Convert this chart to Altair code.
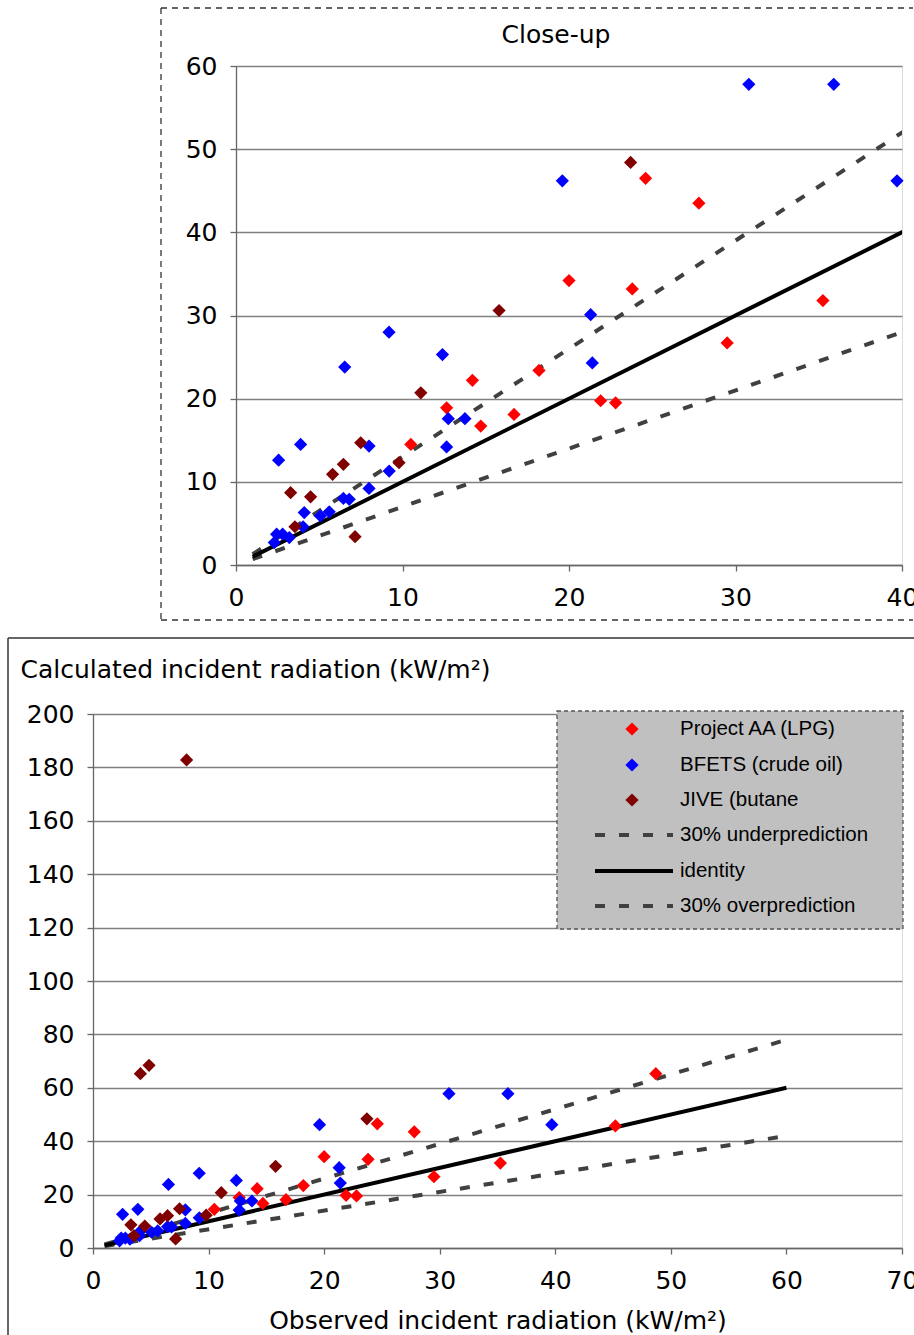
import altair as alt
import pandas as pd

# ---------------- data ----------------
series_names = ["Project AA (LPG)", "BFETS (crude oil)", "JIVE (butane"]
series_colors = ["#FF0000", "#0000FF", "#800000"]

aa_obs = [10.5, 12.65, 14.2, 14.7, 16.7, 18.2, 20.0, 21.9, 22.8, 23.8, 24.6, 27.8, 29.5, 35.25, 45.2, 48.7]
aa_calc = [14.5, 18.9, 22.2, 16.7, 18.1, 23.4, 34.2, 19.75, 19.5, 33.2, 46.5, 43.5, 26.7, 31.8, 45.7, 65.3]

bf_obs = [2.3, 2.44, 2.8, 3.2, 4.03, 4.1, 5.07, 5.6, 6.45, 6.8, 7.99, 9.2, 2.56, 3.88, 7.99,
          12.65, 12.75, 13.75, 6.53, 9.19, 12.4, 21.4, 21.3, 19.6, 30.8, 35.9, 39.7]
bf_calc = [2.7, 3.7, 3.7, 3.3, 4.6, 6.3, 5.9, 6.4, 8.0, 7.9, 9.2, 11.3, 12.6, 14.5, 14.3,
           14.2, 17.6, 17.6, 23.8, 28.0, 25.3, 24.3, 30.1, 46.2, 57.8, 57.8, 46.2]

jv_obs = [3.28, 3.54, 4.48, 5.8, 6.45, 7.15, 7.49, 9.79, 11.1, 15.8, 23.7, 4.1, 4.85, 8.1]
jv_calc = [8.7, 4.6, 8.2, 10.9, 12.1, 3.4, 14.7, 12.3, 20.7, 30.6, 48.4, 65.3, 68.4, 182.8]

line_names = ["30% underprediction", "identity", "30% overprediction"]
line_obs = [1, 60]
under_calc = [1.3, 78]
identity_calc = [1, 60]
over_calc = [0.7, 42]

close_x_ticks = [0, 10, 20, 30, 40]
close_y_ticks = [0, 10, 20, 30, 40, 50, 60]
full_x_ticks = [0, 10, 20, 30, 40, 50, 60, 70]
full_y_ticks = [0, 20, 40, 60, 80, 100, 120, 140, 160, 180, 200]

# ---------------- tables ----------------
pts = pd.DataFrame({
    "obs": aa_obs + bf_obs + jv_obs,
    "calc": aa_calc + bf_calc + jv_calc,
    "series": [series_names[0]] * len(aa_obs) + [series_names[1]] * len(bf_obs)
              + [series_names[2]] * len(jv_obs),
})
lines = pd.DataFrame({
    "obs": line_obs * 3,
    "calc": under_calc + identity_calc + over_calc,
    "kind": [line_names[0]] * 2 + [line_names[1]] * 2 + [line_names[2]] * 2,
})
one = pd.DataFrame({"a": [0]})

FONT = "DejaVu Sans"
LFONT = "Liberation Sans"
FS = 25
AX = "#666666"
DASH = [10, 14]


def x_axis(values, **extra):
    return alt.Axis(values=values, grid=False, tickSize=6, tickColor=AX, tickWidth=1.3,
                    domainColor=AX, domainWidth=1.3, labelFont=FONT, labelFontSize=FS,
                    labelColor="black", labelPadding=14, labelFlush=False,
                    labelOverlap=False, **extra)


def y_axis(values, **extra):
    return alt.Axis(values=values, grid=True, gridColor="#808080", gridWidth=1.3,
                    tickSize=6, tickColor=AX, tickWidth=1.3, domainColor=AX,
                    domainWidth=1.3, labelFont=FONT, labelFontSize=FS, labelColor="black",
                    labelPadding=13, labelOverlap=False, **extra)


def data_layers(xmax, ymax, xaxis, yaxis, close):
    xs = alt.Scale(domain=[0, xmax], nice=False)
    ys = alt.Scale(domain=[0, ymax], nice=False)
    xe = alt.X("obs:Q", scale=xs, axis=xaxis)
    ye = alt.Y("calc:Q", scale=ys, axis=yaxis)
    dashed = alt.Chart(lines).transform_filter(
        f"datum.kind != '{line_names[1]}'"
    ).mark_line(color="#404040", strokeWidth=4, strokeDash=DASH, clip=True).encode(
        x=xe, y=ye, detail="kind:N")
    ident = alt.Chart(lines).transform_filter(
        f"datum.kind == '{line_names[1]}'"
    ).mark_line(color="black", strokeWidth=4, clip=True).encode(x=xe, y=ye)
    p = alt.Chart(pts)
    if close:
        p = p.transform_filter(f"datum.obs <= {xmax} && datum.calc <= {ymax}")
    points = p.mark_point(shape="diamond", filled=True, size=175, opacity=1).encode(
        x=xe, y=ye,
        color=alt.Color("series:N", scale=alt.Scale(domain=series_names, range=series_colors),
                        legend=None))
    return [dashed, ident, points]


def hrule(x1, x2, y, **style):
    return alt.Chart(one).mark_rule(**style).encode(
        x=alt.value(x1), x2=alt.value(x2), y=alt.value(y))


def vrule(x, y1, y2, **style):
    return alt.Chart(one).mark_rule(**style).encode(
        x=alt.value(x), y=alt.value(y1), y2=alt.value(y2))


# ---------------- close-up panel ----------------
TW, TH = 666, 499
frame_style = dict(color="#333333", strokeWidth=1.3, strokeDash=[6, 5])
top_layers = data_layers(40, 60, x_axis(close_x_ticks, title=None),
                         y_axis(close_y_ticks, title=None), True)
top_layers += [
    vrule(-75, -58, 554, **frame_style),
    hrule(-75, 677, -58, **frame_style),
    hrule(-75, 677, 554, **frame_style),
    alt.Chart(one).mark_text(font=FONT, fontSize=FS, align="center", baseline="middle",
                             color="black").encode(
        x=alt.value(320), y=alt.value(-31), text=alt.value("Close-up")),
]
top = alt.layer(*top_layers).properties(width=TW, height=TH)

spacer = alt.Chart(one).mark_point(opacity=0).encode(
    x=alt.X("a:Q", axis=None), y=alt.Y("a:Q", axis=None)
).properties(width=143, height=TH,
             view=alt.ViewBackground(stroke="transparent", fill="transparent"))

top_row = alt.hconcat(spacer, top, spacing=0, bounds="flush")

# ---------------- full-range panel ----------------
BW, BH = 809, 534
bot_layers = data_layers(
    70, 200,
    x_axis(full_x_ticks, title="Observed incident radiation (kW/m²)", titleFont=FONT,
           titleFontSize=FS, titleFontWeight="normal", titleColor="black", titlePadding=15),
    y_axis(full_y_ticks, title="Calculated incident radiation (kW/m²)", titleFont=FONT,
           titleFontSize=FS, titleFontWeight="normal", titleColor="black", titleAngle=0,
           titleAlign="left", titleBaseline="middle", titleX=-73, titleY=-45),
    False)

legend_layers = [
    alt.Chart(one).mark_rect(fill="#C0C0C0", stroke="#555555", strokeWidth=1.3,
                             strokeDash=[4, 3]).encode(
        x=alt.value(464), x2=alt.value(810), y=alt.value(-3), y2=alt.value(215)),
]
leg_rows = [15, 51, 86, 121, 157, 192]
for i, name in enumerate(series_names):
    legend_layers.append(
        alt.Chart(one).mark_point(shape="diamond", filled=True, size=175, opacity=1,
                                  color=series_colors[i]).encode(
            x=alt.value(539), y=alt.value(leg_rows[i])))
for j, name in enumerate(line_names):
    style = dict(color="black", strokeWidth=4) if name == "identity" else \
        dict(color="#404040", strokeWidth=4, strokeDash=DASH)
    legend_layers.append(hrule(502, 580, leg_rows[3 + j], **style))
all_names = series_names + line_names
for k, name in enumerate(all_names):
    legend_layers.append(
        alt.Chart(one).mark_text(font=LFONT, fontSize=20.5, align="left", baseline="middle",
                                 color="black").encode(
            x=alt.value(587), y=alt.value(leg_rows[k]), text=alt.value(name)))

bframe = dict(color="#333333", strokeWidth=1.5)
bot_layers += legend_layers + [
    vrule(-85, -76, 624, **bframe),
    hrule(-85, 824, -76, **bframe),
]
bottom = alt.layer(*bot_layers).properties(width=BW, height=BH)

chart = alt.vconcat(top_row, bottom, spacing=14).properties(
    padding={"left": 6, "top": 6, "right": -5, "bottom": 0}
).configure_view(stroke=None).configure(background="white")

chart.save("out.html", embed_options={"renderer": "svg", "actions": False})
